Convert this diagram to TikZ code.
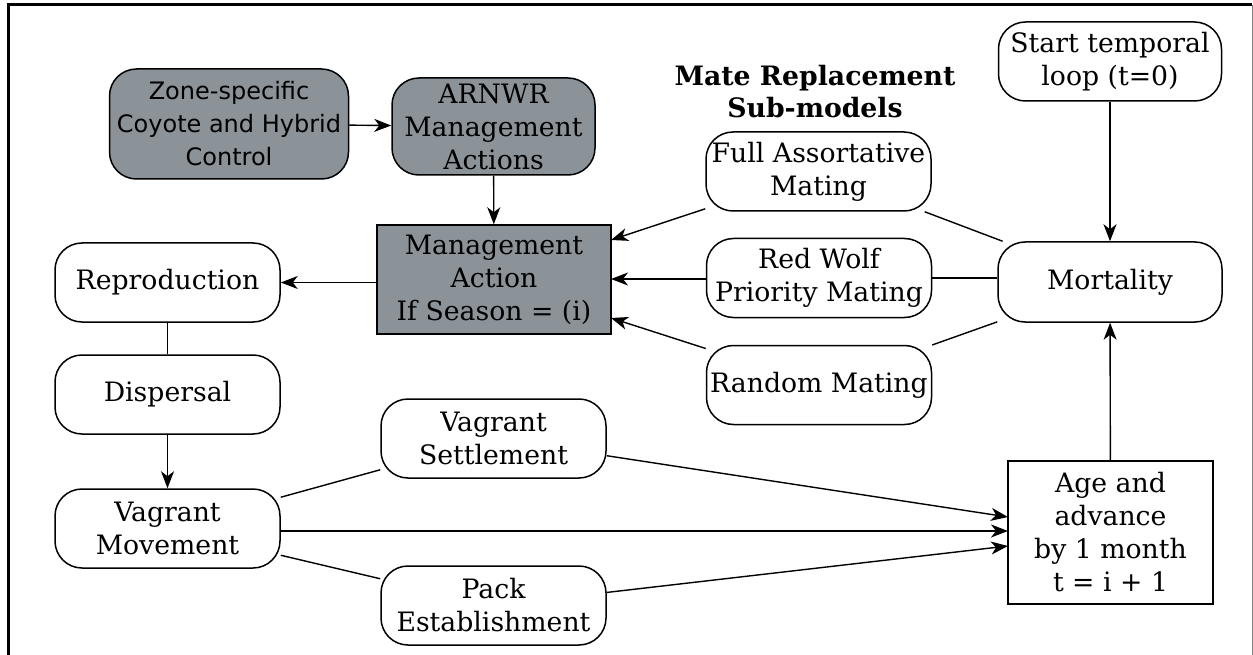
\documentclass[tikz,border=0pt]{standalone}
\usepackage{fontspec}
\setmainfont{DejaVu Serif}
\newfontfamily\dsans{DejaVu Sans}
\usetikzlibrary{arrows.meta,calc}
\definecolor{boxgray}{RGB}{139,147,153}
\begin{document}
\begin{tikzpicture}[x=1pt,y=-1pt,
  base/.style={draw, line width=1.5pt, align=center, inner sep=0pt, font=\fontsize{26.7}{33}\selectfont},
  rbox/.style={base, rounded corners=27pt, minimum width=225pt, minimum height=79pt},
  gbox/.style={fill=boxgray},
  arr/.style={-{Stealth[length=17pt,width=13pt,inset=5pt]}, line width=1.4pt},
  ln/.style={line width=1.4pt}]
\useasboundingbox (0,0) rectangle (1253,655);
% frame
\draw[line width=3pt] (8,655) -- (8,5) -- (1252,5);
\draw[gray, line width=1pt] (1252,5) -- (1252,655);

% nodes
\node[rbox, gbox, minimum width=239pt, minimum height=110pt, font=\dsans\fontsize{24}{33}\selectfont] (zone) at (229,124) {Zone-specific\\Coyote and Hybrid\\Control};
\node[rbox, gbox, minimum width=203pt, minimum height=97pt] (arnwr) at (493.5,126.5) {ARNWR\\Management\\Actions};
\node[base, gbox, minimum width=234pt, minimum height=109pt] (mgmt) at (494,279.5) {Management\\Action\\If Season = (i)};
\node[font=\bfseries\fontsize{26.7}{32}\selectfont, align=center, inner sep=0pt] (title) at (815,92) {Mate Replacement\\Sub-models};
\node[rbox] (full) at (818.5,171.5) {Full Assortative\\Mating};
\node[rbox] (red) at (819,278) {Red Wolf\\Priority Mating};
\node[rbox] (rand) at (819,385) {Random Mating};
\node[rbox, minimum width=224pt, minimum height=80pt] (mort) at (1110,282) {Mortality};
\node[rbox, minimum width=223pt] (start) at (1110,61.5) {Start temporal\\loop (t=0)};
\node[base, minimum width=205pt, minimum height=143pt] (age) at (1110.5,532.5) {Age and\\advance\\by 1 month\\t = i + 1};
\node[rbox] (repro) at (167.5,282.5) {Reproduction};
\node[rbox] (disp) at (167.5,394.5) {Dispersal};
\node[rbox] (vm) at (167.5,528.5) {Vagrant\\Movement};
\node[rbox] (vs) at (493.5,438.5) {Vagrant\\Settlement};
\node[rbox] (pack) at (493.5,605.5) {Pack\\Establishment};

% connector end points
\coordinate (m1) at (611,240);
\coordinate (m2) at (611,279);
\coordinate (m3) at (611,318);
\coordinate (a1) at (1008,517);
\coordinate (a2) at (1008,531);
\coordinate (a3) at (1008,546);

% connectors
\draw[arr] (zone) -- (arnwr);
\draw[arr] (arnwr) -- (mgmt);
\draw[arr] (full) -- (m1);
\draw[arr] (red.west |- m2) -- (m2);
\draw[arr] (rand) -- (m3);
\draw[ln] (mort) -- (full);
\draw[ln] (mort.west |- red.east) -- (red.east);
\draw[ln] (mort) -- (rand);
\draw[arr] (mgmt.west |- repro.east) -- (repro.east);
\draw[ln] (repro) -- (disp);
\draw[arr] (disp) -- (vm);
\draw[ln] (vm) -- (vs);
\draw[arr] (vs) -- (a1);
\draw[arr] (vm.east |- a2) -- (a2);
\draw[ln] (vm) -- (pack);
\draw[arr] (pack) -- (a3);
\draw[arr] (start) -- (mort);
\draw[arr] (age) -- (mort);
\end{tikzpicture}
\end{document}
